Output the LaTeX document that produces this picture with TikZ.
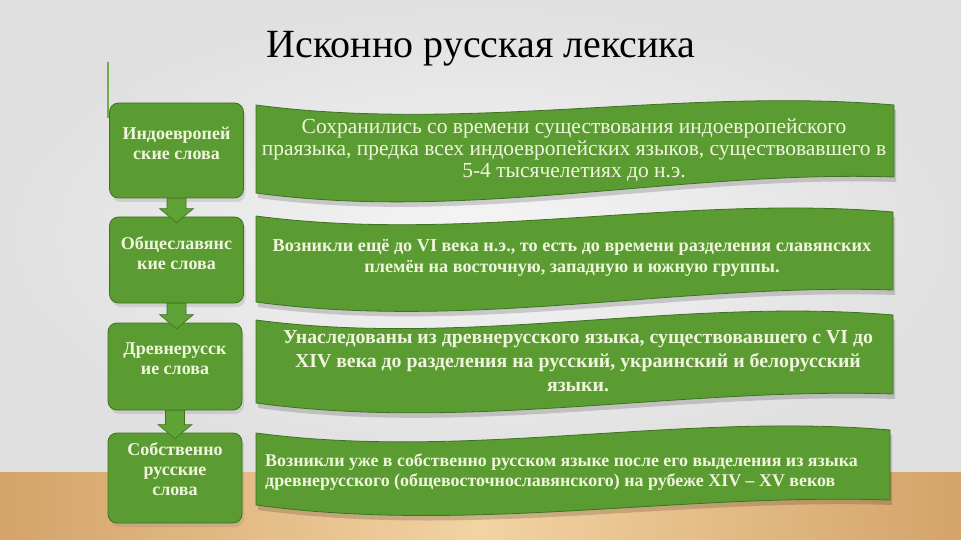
\documentclass[tikz,border=0pt]{standalone}
\usepackage{fontspec}
\setmainfont{Liberation Serif}
\usetikzlibrary{calc,shadows}
\definecolor{gfill}{HTML}{5A9B32}
\definecolor{gedge}{HTML}{3E7222}
\definecolor{gtext}{HTML}{F0F6DC}
\definecolor{wallc}{HTML}{E0E0E0}
\definecolor{walli}{HTML}{F5F5F5}
\definecolor{woodd}{HTML}{D4A369}
\definecolor{woodl}{HTML}{F2D3A2}
\definecolor{garr}{HTML}{5FA336}
\definecolor{lineg}{HTML}{72AE48}
% wave banner: L R tl tr bl br
\newcommand{\wavebnr}[6]{%
  \fill[shadowc, shift={(2,5)}] (#1,#3) .. controls ({#1+(#2-#1)/3},{#3+28}) and ({#1+2*(#2-#1)/3},{#4-18}) .. (#2,#4) -- (#2,#6) .. controls ({#1+2*(#2-#1)/3},{#6-7}) and ({#1+(#2-#1)/3},{#5+29}) .. (#1,#5) -- cycle;
  \filldraw[banner] (#1,#3) .. controls ({#1+(#2-#1)/3},{#3+28}) and ({#1+2*(#2-#1)/3},{#4-18}) .. (#2,#4) -- (#2,#6) .. controls ({#1+2*(#2-#1)/3},{#6-7}) and ({#1+(#2-#1)/3},{#5+29}) .. (#1,#5) -- cycle;}
\newcommand{\downblk}[2]{%
  \draw[blockarr] let \p1=(#1.south), \p2=(#2.north) in
   (\x1-9.5pt,\y1) -- (\x1-9.5pt,\y2+8pt) -- (\x1-17pt,\y2+8pt) -- (\x1,\y2-6pt)
   -- (\x1+17pt,\y2+8pt) -- (\x1+9.5pt,\y2+8pt) -- (\x1+9.5pt,\y1) -- cycle;}
\begin{document}
\begin{tikzpicture}[x=1pt,y=-1pt,
  lbox/.style={draw=gedge, line width=0.8pt, fill=gfill, rounded corners=9pt,
    minimum width=134pt, inner sep=0pt,
    drop shadow={opacity=0.22, shadow xshift=2pt, shadow yshift=-4pt}},
  ltxt/.style={text=gtext, font=\fontsize{18}{20}\selectfont\bfseries, align=center, inner sep=0pt},
  btxt/.style={text=gtext, align=center, inner sep=0pt},
  shadowc/.style={fill=black, opacity=0.16},
  banner/.style={fill=gfill, draw=gedge, line width=0.8pt},
  blockarr/.style={fill=garr, draw=gedge, line width=0.6pt}]

\useasboundingbox (0,0) rectangle (961,540);
\shade[inner color=walli, outer color=wallc] (0,0) rectangle (961,472);
\shade[left color=woodd, right color=woodd, middle color=woodl] (0,472) rectangle (961,540);

\node[font=\fontsize{40}{44}\selectfont, anchor=base, inner sep=0pt] (title) at (481,58) {Исконно русская лексика};
\draw[lineg, line width=2pt] (108,62) -- (108,118);

% left boxes
\node[lbox, minimum height=95pt] (b1) at (176.5,150.5) {};
\node[lbox, minimum height=86pt] (b2) at (176.5,260) {};
\node[lbox, minimum height=87pt] (b3) at (175,366.5) {};
\node[lbox, minimum height=90pt] (b4) at (175,478) {};

\node[ltxt] (l1) at ($(b1.center)+(0,-7)$) {Индоевропей\\ские слова};
\node[ltxt] (l2) at ($(b2.center)+(0,-7)$) {Общеславянс\\кие слова};
\node[ltxt] (l3) at ($(b3.center)+(0,-8)$) {Древнерусск\\ие слова};
\node[ltxt] (l4) at ($(b4.center)+(0,-9)$) {Собственно\\русские\\слова};

\downblk{b1}{b2}
\downblk{b2}{b3}
\downblk{b3}{b4}

% banners
\wavebnr{256}{894}{105}{105}{193}{177}
\wavebnr{256}{893}{216}{212}{302}{290}
\wavebnr{256}{893}{320}{315}{403}{394}
\wavebnr{256}{890}{433}{430}{505}{500}

\node[btxt, font=\fontsize{21.5}{22}\selectfont] (t1) at (574,150)
  {Сохранились со времени существования индоевропейского\\праязыка, предка всех индоевропейских языков, существовавшего в\\5-4 тысячелетиях до н.э.};
\node[btxt, font=\fontsize{18.2}{21.5}\selectfont\bfseries] (t2) at (572,258)
  {Возникли ещё до VI века н.э., то есть до времени разделения славянских\\племён на восточную, западную и южную группы.};
\node[btxt, font=\fontsize{19.8}{24}\selectfont\bfseries] (t3) at (578,361)
  {Унаследованы из древнерусского языка, существовавшего с VI до\\XIV века до разделения на русский, украинский и белорусский\\языки.};
\node[btxt, align=left, anchor=west, font=\fontsize{17.9}{20.5}\selectfont\bfseries] (t4) at (265,472)
  {Возникли уже в собственно русском языке после его выделения из языка\\древнерусского (общевосточнославянского) на рубеже XIV – XV веков};
\end{tikzpicture}
\end{document}
